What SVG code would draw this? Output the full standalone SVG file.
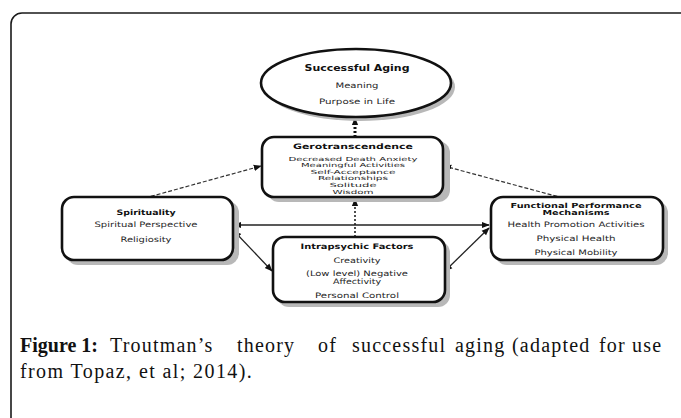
<svg xmlns="http://www.w3.org/2000/svg" width="681" height="418" viewBox="0 0 681 418">
<style>
.frame{fill:none;stroke:#1a1a1a;stroke-width:1.6}
.box{fill:#fff;stroke:#111;stroke-width:2.6}
.shadow{fill:#b8b8b8}
.t{font-family:"DejaVu Sans",sans-serif;font-size:7.5px;fill:#1e1e1e;text-anchor:middle}
.ts{font-family:"DejaVu Sans",sans-serif;font-size:5.6px;fill:#1e1e1e;text-anchor:middle}
.tb{font-family:"DejaVu Sans",sans-serif;font-size:7.5px;font-weight:bold;fill:#111;text-anchor:middle}
.dash{fill:none;stroke:#333;stroke-width:1.2;stroke-dasharray:4 2}
.solid{fill:none;stroke:#222;stroke-width:1.3}
.dot{fill:none;stroke:#111;stroke-width:3;stroke-dasharray:2 2}
.dotthin{fill:none;stroke:#222;stroke-width:1.6;stroke-dasharray:2 2}
.cap{font-family:"Liberation Serif",serif;font-size:20px;fill:#111;letter-spacing:1.2px}
.capb{font-family:"Liberation Serif",serif;font-size:20px;font-weight:bold;fill:#111}
</style>
<defs>
<marker id="arr" viewBox="0 0 10 10" refX="9" refY="5" markerWidth="8" markerHeight="8" markerUnits="userSpaceOnUse" orient="auto">
<path d="M0,1 L10,5 L0,9 z" fill="#111"/>
</marker>
<marker id="arrS" viewBox="0 0 10 10" refX="1" refY="5" markerWidth="8" markerHeight="8" markerUnits="userSpaceOnUse" orient="auto">
<path d="M10,1 L0,5 L10,9 z" fill="#111"/>
</marker>
</defs>
<rect width="681" height="418" fill="#fff"/>
<rect class="frame" x="11" y="13" width="700" height="430" rx="11"/>

<g id="connectors">
<line class="dot" x1="355" y1="137" x2="355" y2="118" marker-end="url(#arr)"/>
<line class="dotthin" x1="355" y1="237" x2="355" y2="199" marker-end="url(#arr)"/>
<line class="dash" x1="145" y1="198" x2="261" y2="166" marker-end="url(#arr)"/>
<line class="dash" x1="563" y1="198" x2="444" y2="166" marker-end="url(#arr)"/>
<line class="solid" x1="489" y1="225" x2="234" y2="225" marker-start="url(#arrS)" marker-end="url(#arr)"/>
<line class="solid" x1="234" y1="231" x2="272" y2="271" marker-start="url(#arrS)" marker-end="url(#arr)"/>
<line class="solid" x1="445" y1="271" x2="489" y2="228" marker-start="url(#arrS)" marker-end="url(#arr)"/>
</g>

<g id="successful-aging">
<ellipse class="shadow" cx="360" cy="87" rx="95" ry="34"/>
<ellipse class="box" cx="356" cy="83" rx="95" ry="34"/>
<text class="tb" x="357" y="71" style="font-size:8.5px" textLength="105" lengthAdjust="spacingAndGlyphs">Successful Aging</text>
<text class="t" x="357" y="87.5" textLength="43" lengthAdjust="spacingAndGlyphs">Meaning</text>
<text class="t" x="357" y="104" textLength="76" lengthAdjust="spacingAndGlyphs">Purpose in Life</text>
</g>

<g id="gerotranscendence">
<rect class="shadow" x="267" y="141" width="183" height="61" rx="12"/>
<rect class="box" x="262" y="137" width="181" height="60" rx="12"/>
<text class="tb" x="353" y="148.5" textLength="120" lengthAdjust="spacingAndGlyphs">Gerotranscendence</text>
<text class="ts" x="353" y="160.5" textLength="129" lengthAdjust="spacingAndGlyphs">Decreased Death Anxiety</text>
<text class="ts" x="353" y="167.1" textLength="104" lengthAdjust="spacingAndGlyphs">Meaningful Activities</text>
<text class="ts" x="353" y="173.7" textLength="85" lengthAdjust="spacingAndGlyphs">Self-Acceptance</text>
<text class="ts" x="353" y="180.3" textLength="70" lengthAdjust="spacingAndGlyphs">Relationships</text>
<text class="ts" x="353" y="186.9" textLength="47" lengthAdjust="spacingAndGlyphs">Solitude</text>
<text class="ts" x="353" y="193.5" textLength="41" lengthAdjust="spacingAndGlyphs">Wisdom</text>
</g>

<g id="spirituality">
<rect class="shadow" x="66" y="201" width="173" height="64" rx="12"/>
<rect class="box" x="62" y="197" width="171" height="63" rx="12"/>
<text class="tb" x="146" y="214.5" textLength="59" lengthAdjust="spacingAndGlyphs">Spirituality</text>
<text class="t" x="146" y="227" textLength="103" lengthAdjust="spacingAndGlyphs">Spiritual Perspective</text>
<text class="t" x="146" y="241.5" textLength="51" lengthAdjust="spacingAndGlyphs">Religiosity</text>
</g>

<g id="intrapsychic">
<rect class="shadow" x="277" y="241" width="173" height="66" rx="12"/>
<rect class="box" x="273" y="237" width="172" height="65" rx="12"/>
<text class="tb" x="357" y="248.5" textLength="113" lengthAdjust="spacingAndGlyphs">Intrapsychic Factors</text>
<text class="t" x="357" y="262.5" textLength="47" lengthAdjust="spacingAndGlyphs">Creativity</text>
<text class="t" x="357" y="275.5" textLength="102" lengthAdjust="spacingAndGlyphs">(Low level) Negative</text>
<text class="t" x="357" y="283.5" textLength="48" lengthAdjust="spacingAndGlyphs">Affectivity</text>
<text class="t" x="357" y="297.5" textLength="84" lengthAdjust="spacingAndGlyphs">Personal Control</text>
</g>

<g id="functional">
<rect class="shadow" x="495" y="201" width="173" height="64" rx="12"/>
<rect class="box" x="491" y="197" width="172" height="63" rx="12"/>
<text class="tb" x="576" y="208" style="font-size:7px" textLength="131" lengthAdjust="spacingAndGlyphs">Functional Performance</text>
<text class="tb" x="576" y="215" style="font-size:7px" textLength="67" lengthAdjust="spacingAndGlyphs">Mechanisms</text>
<text class="t" x="576" y="227" textLength="137" lengthAdjust="spacingAndGlyphs">Health Promotion Activities</text>
<text class="t" x="576" y="241" textLength="79" lengthAdjust="spacingAndGlyphs">Physical Health</text>
<text class="t" x="576" y="255" textLength="83" lengthAdjust="spacingAndGlyphs">Physical Mobility</text>
</g>

<g id="caption">
<text class="capb" x="20" y="352">Figure 1:</text>
<text class="cap" y="352"><tspan x="110">Troutman’s</tspan><tspan x="237">theory</tspan><tspan x="318">of</tspan><tspan x="352">successful</tspan><tspan x="455">aging</tspan><tspan x="512">(adapted</tspan><tspan x="599">for</tspan><tspan x="632">use</tspan></text>
<text class="cap" x="20" y="378" style="letter-spacing:1.4px">from Topaz, et al; 2014).</text>
</g>
</svg>
